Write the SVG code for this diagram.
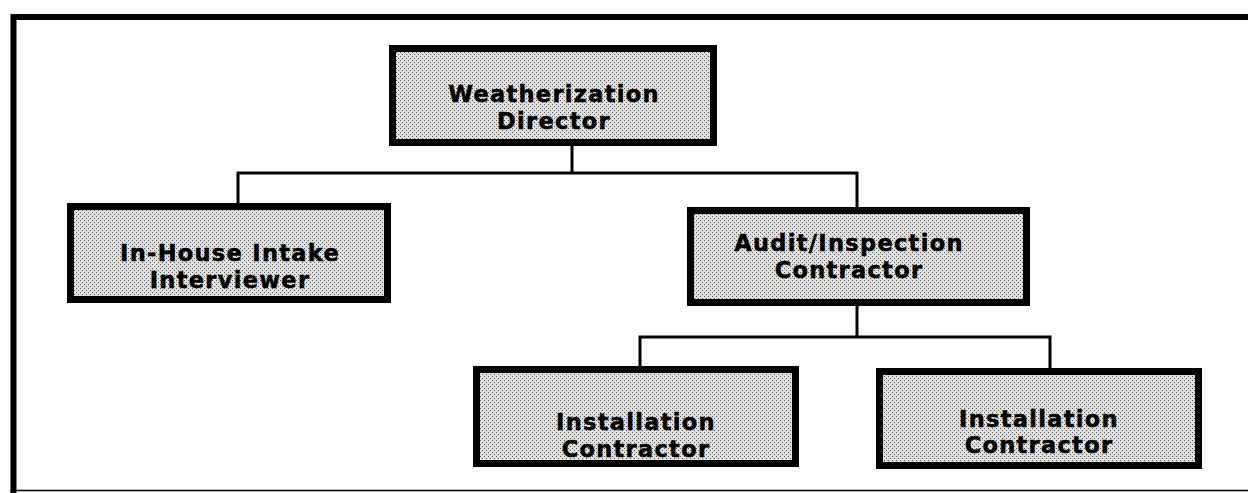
<svg xmlns="http://www.w3.org/2000/svg" width="1248" height="493" viewBox="0 0 1248 493">
<defs>
<pattern id="stip" patternUnits="userSpaceOnUse" width="4" height="4">
<rect width="4" height="4" fill="#e0e0e0"/>
<rect x="0" y="0" width="1" height="1" fill="#555"/>
<rect x="2" y="2" width="1" height="1" fill="#555"/>
</pattern>
</defs>
<style>
.box{fill:url(#stip);stroke:#000;stroke-width:7}
.lbl{font-family:"DejaVu Sans","Liberation Sans",Arial,sans-serif;font-weight:bold;font-size:22.5px;letter-spacing:1.3px;text-anchor:middle;fill:#000;stroke:#000;stroke-width:0.5}
.conn{fill:none;stroke:#000;stroke-width:3}
.frame{fill:none;stroke:#000}
</style>
<rect width="1248" height="493" fill="#fff"/>
<g id="frame">
<path class="frame" d="M13.5 493 V17 H1248" stroke-width="6"/>
<line class="frame" x1="10" y1="490.5" x2="1248" y2="490.5" stroke-width="1.5" stroke="#333"/>
</g>
<g id="connectors">
<path class="conn" d="M572 146 V173"/>
<path class="conn" d="M238 203 V173 H857 V207"/>
<path class="conn" d="M857 306 V337"/>
<path class="conn" d="M640 367 V337 H1050 V368"/>
</g>
<g id="director">
<rect class="box" x="392.5" y="48.5" width="321" height="94"/>
<text class="lbl"><tspan x="554" y="102">Weatherization</tspan><tspan x="554" y="128.5">Director</tspan></text>
</g>
<g id="intake">
<rect class="box" x="70.5" y="206.5" width="317" height="93"/>
<text class="lbl"><tspan x="230" y="261">In-House Intake</tspan><tspan x="230" y="287.5">Interviewer</tspan></text>
</g>
<g id="audit">
<rect class="box" x="690.5" y="210.5" width="336" height="92"/>
<text class="lbl"><tspan x="849" y="251">Audit/Inspection</tspan><tspan x="849" y="277.5">Contractor</tspan></text>
</g>
<g id="install1">
<rect class="box" x="476.5" y="369.5" width="319" height="94"/>
<text class="lbl"><tspan x="636" y="430">Installation</tspan><tspan x="636" y="456.5">Contractor</tspan></text>
</g>
<g id="install2">
<rect class="box" x="879.5" y="371.5" width="319" height="94"/>
<text class="lbl"><tspan x="1039" y="426.5">Installation</tspan><tspan x="1039" y="453">Contractor</tspan></text>
</g>
</svg>
